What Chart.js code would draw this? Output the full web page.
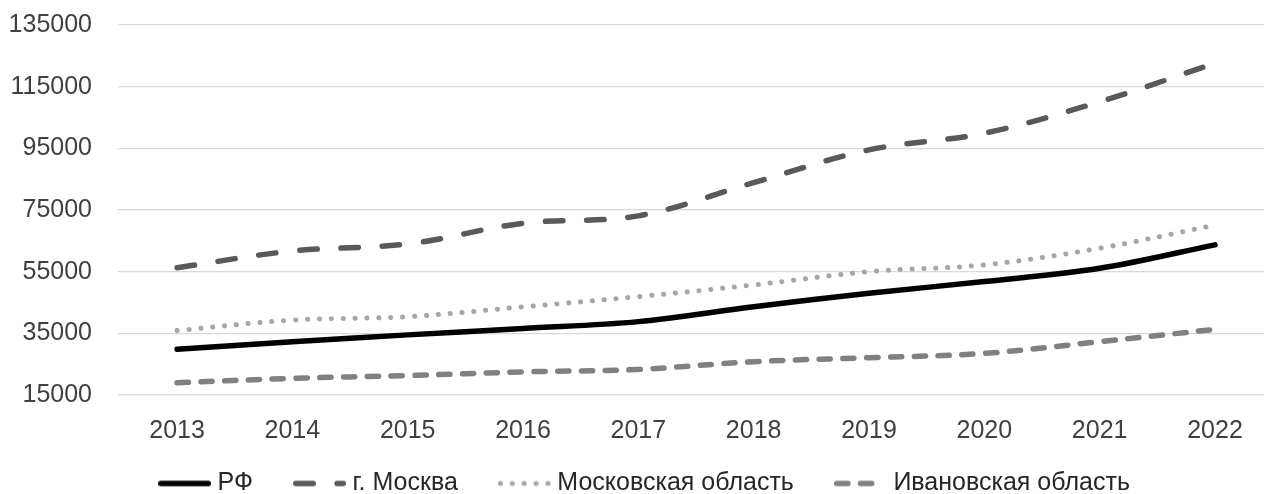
<!DOCTYPE html>
<html lang="ru">
<head>
    <meta charset="UTF-8">
    <title>Заработная плата</title>
    <script src="https://cdn.jsdelivr.net/npm/chart.js@4.4.0/dist/chart.umd.min.js"></script>
    <style>
        body { margin: 0; background: #fff; }
    </style>
</head>
<body>
    <canvas id="myChart" width="1264" height="494"></canvas>
    <script>
        // годы (ось X)
        var years = [2013, 2014, 2015, 2016, 2017, 2018, 2019, 2020, 2021, 2022];
        // значения по рядам
        var rf = [29800, 32300, 34500, 36600, 38800, 43600, 48000, 51800, 56100, 63700];
        var moscow = [56300, 61700, 64000, 70700, 73100, 83900, 94500, 99900, 110100, 122600];
        var moscowObl = [35900, 39300, 40400, 43600, 46900, 50700, 55000, 57200, 62600, 70100];
        var ivanovoObl = [19000, 20400, 21300, 22500, 23300, 25800, 27100, 28500, 32300, 36300];
        // подписи оси Y
        var yTicks = [15000, 35000, 55000, 75000, 95000, 115000, 135000];

        function pts(arr) {
            return years.map(function (yr, i) { return { x: yr, y: arr[i] }; });
        }

        // значок для легенды: кусок линии тем же стилем, что и ряд
        function legendIcon(color, width, dash) {
            var c = document.createElement('canvas');
            c.width = 53;
            c.height = 12;
            var g = c.getContext('2d');
            g.strokeStyle = color;
            g.lineWidth = width;
            g.lineCap = 'round';
            g.setLineDash(dash);
            g.beginPath();
            g.moveTo(width / 2, 6);
            g.lineTo(53 - width / 2, 6);
            g.stroke();
            return c;
        }

        var font = { family: "'Liberation Sans', Arial, sans-serif", size: 25 };

        // легенда чуть вправо; ось X не должна обрезать свои подписи
        var layoutFix = {
            id: 'layoutFix',
            afterLayout: function (chart) {
                chart.legend.left += 15;
                chart.legend.right += 15;
                chart.scales.x.bottom += 30;
            }
        };

        var chartArea = document.getElementById('myChart').getContext('2d');
        var myChart = new Chart(chartArea, {
            type: 'line',
            data: {
                datasets: [{
                    label: 'РФ',
                    data: pts(rf),
                    borderColor: '#000000',
                    borderWidth: 5.5,
                    borderCapStyle: 'round',
                    pointStyle: legendIcon('#000000', 5.5, [])
                }, {
                    label: 'г. Москва',
                    data: pts(moscow),
                    borderColor: '#595959',
                    borderWidth: 5.5,
                    borderDash: [17.5, 23.8],
                    borderCapStyle: 'round',
                    pointStyle: legendIcon('#595959', 5.5, [17.5, 23.8])
                }, {
                    label: 'Московская область',
                    data: pts(moscowObl),
                    borderColor: '#a6a6a6',
                    borderWidth: 5,
                    borderDash: [0.1, 11.8],
                    borderCapStyle: 'round',
                    pointStyle: legendIcon('#a6a6a6', 5, [0.1, 11.8])
                }, {
                    label: 'Ивановская область',
                    data: pts(ivanovoObl),
                    borderColor: '#808080',
                    borderWidth: 5.5,
                    borderDash: [11.2, 12.6],
                    borderCapStyle: 'round',
                    pointStyle: legendIcon('#808080', 5.5, [11.2, 12.6])
                }]
            },
            options: {
                responsive: false,
                animation: false,
                tension: 0.35,
                pointRadius: 0,
                pointHoverRadius: 0,
                layout: { padding: { top: 25, left: 0, right: 0, bottom: 0 } },
                scales: {
                    x: {
                        type: 'linear',
                        min: 2012.488,
                        max: 2022.425,
                        grid: { display: false, drawTicks: false },
                        border: { display: false },
                        afterBuildTicks: function (scale) {
                            scale.ticks = years.map(function (v) { return { value: v }; });
                        },
                        afterFit: function (scale) { scale.height = 30; },
                        ticks: {
                            padding: 21,
                            maxRotation: 0,
                            color: '#404040',
                            font: font,
                            callback: function (v) { return String(v); }
                        }
                    },
                    y: {
                        min: 15000,
                        max: 135000,
                        afterBuildTicks: function (scale) {
                            scale.ticks = yTicks.map(function (v) { return { value: v }; });
                        },
                        afterFit: function (scale) {
                            scale.width = 118;
                            scale.paddingTop = 0;
                            scale.paddingBottom = 0;
                        },
                        grid: { color: '#d9d9d9', lineWidth: 1.2, drawTicks: false },
                        border: { display: false },
                        ticks: {
                            padding: 26,
                            color: '#404040',
                            font: font,
                            callback: function (v) { return String(v); }
                        }
                    }
                },
                plugins: {
                    tooltip: { enabled: false },
                    legend: {
                        position: 'bottom',
                        maxHeight: 69,
                        labels: {
                            usePointStyle: true,
                            pointStyleWidth: 41,
                            padding: 46,
                            color: '#262626',
                            font: font
                        }
                    }
                }
            },
            plugins: [layoutFix]
        });
    </script>
</body>
</html>
